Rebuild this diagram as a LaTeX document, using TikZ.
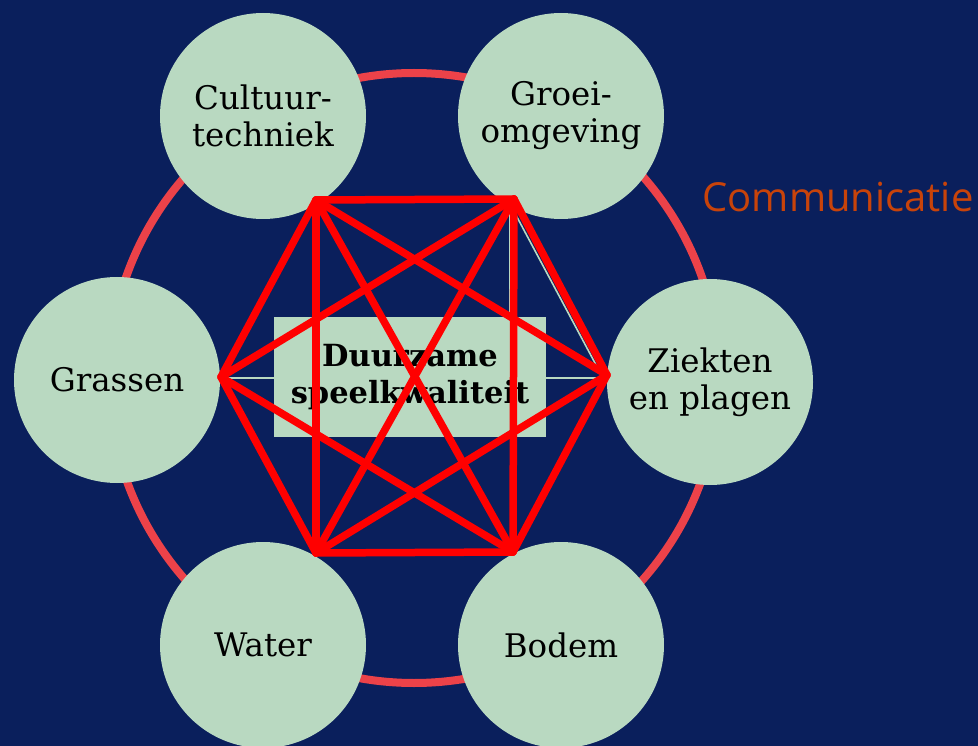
\documentclass[tikz,border=0pt]{standalone}
\usepackage{fontspec}
\setmainfont{DejaVu Serif}
\newfontfamily\commfont{Open Sans}
\definecolor{navy}{HTML}{0A1F5C}
\definecolor{pale}{HTML}{B9D9C1}
\definecolor{ring}{HTML}{EC4249}
\definecolor{comm}{HTML}{C8430A}
\begin{document}
\begin{tikzpicture}[x=1pt,y=-1pt,
  topic/.style={circle,fill=pale,minimum size=206pt,inner sep=0pt,align=center,text=black,font=\fontsize{32.5}{37}\selectfont},
  centerbox/.style={rectangle,fill=pale,minimum width=272pt,minimum height=119pt,inner sep=0pt,align=center,text=black,font=\fontsize{30.5}{37}\selectfont\bfseries},
  link/.style={draw=red,line width=7.5pt,line cap=round,line join=round},
  thin/.style={draw=pale,line width=1.6pt}]
\fill[navy] (0,0) rectangle (978,746);
\useasboundingbox (0,0) rectangle (978,746);
\coordinate (O) at (414,378);
\draw[ring,line width=8pt] (O) circle (305);
\node[topic] (ct) at (263,116) {Cultuur-\\techniek};
\node[topic] (go) at (561,116) {Groei-\\omgeving};
\node[topic] (gr) at (117,380) {Grassen};
\node[topic] (zp) at (710,382) {Ziekten\\en plagen};
\node[topic] (wa) at (263,645) {Water};
\node[topic] (bo) at (561,645) {Bodem};
\node[centerbox] (dz) at (410,377) {Duurzame\\speelkwaliteit};
\coordinate (TL) at (316,200);
\coordinate (TR) at (514,199);
\coordinate (L) at (221,377);
\coordinate (R) at (607,375);
\coordinate (BL) at (316,553);
\coordinate (BR) at (513,552);
\coordinate (pTR) at (510,204);
\coordinate (pR) at (603,378);
\coordinate (pL) at (224,378);
\draw[thin] (pL) -- (pR);
\draw[thin] (pTR) -- (pR);
\draw[thin] (pTR) -- (dz.north -| pTR);
\draw[link] (TL) -- (TR) -- (R) -- (BR) -- (BL) -- (L) -- cycle;
\draw[link] (TL) -- (BL);
\draw[link] (TR) -- (BR);
\draw[link] (TL) -- (R);
\draw[link] (TL) -- (BR);
\draw[link] (TR) -- (L);
\draw[link] (TR) -- (BL);
\draw[link] (L) -- (BR);
\draw[link] (R) -- (BL);
\node[text=comm,font=\commfont\fontsize{40}{48}\selectfont,anchor=center] (cm) at (838,197) {Communicatie};
\end{tikzpicture}
\end{document}
